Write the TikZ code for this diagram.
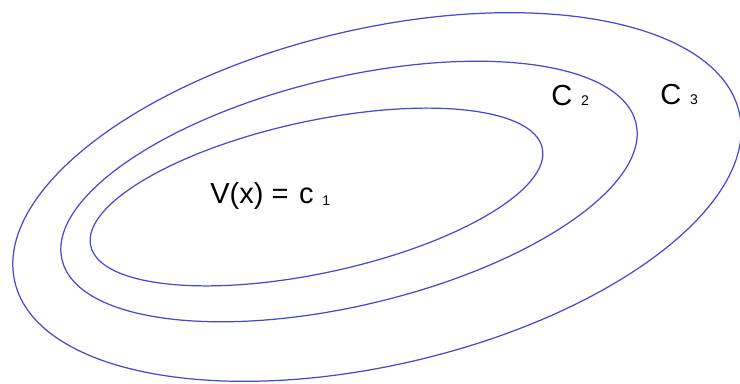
\documentclass[tikz,border=0pt]{standalone}
\usepackage{fontspec}
\setmainfont{Liberation Sans}
\usepackage{tikz}
\definecolor{curveblue}{RGB}{72,72,212}
\newcommand{\lvlidx}[2]{\hspace{5pt}\raisebox{#2}{\fontsize{8}{8}\selectfont #1}}

\begin{document}
\begin{tikzpicture}[x=0.02cm,y=0.02cm,
    levelset/.style={curveblue,line width=0.7pt},
    lbl/.style={font=\fontsize{16.5}{19}\selectfont,anchor=base west,inner sep=0pt}]
  \useasboundingbox (0,0) rectangle (740,383);
  \draw[levelset] (377,186) ellipse[x radius=372,y radius=168,rotate=13.2];
  \draw[levelset] (349,191.5) ellipse[x radius=295,y radius=114,rotate=13.4];
  \draw[levelset] (316.5,186) ellipse[x radius=231,y radius=76,rotate=12.2];
  \node[lbl] (c1) at (210,180) {V(x) =\hspace{6pt}c\lvlidx{1}{-1.5pt}};
  \node[lbl] (c2) at (551,278) {C\lvlidx{2}{0pt}};
  \node[lbl] (c3) at (660,279) {C\lvlidx{3}{0pt}};
\end{tikzpicture}
\end{document}
